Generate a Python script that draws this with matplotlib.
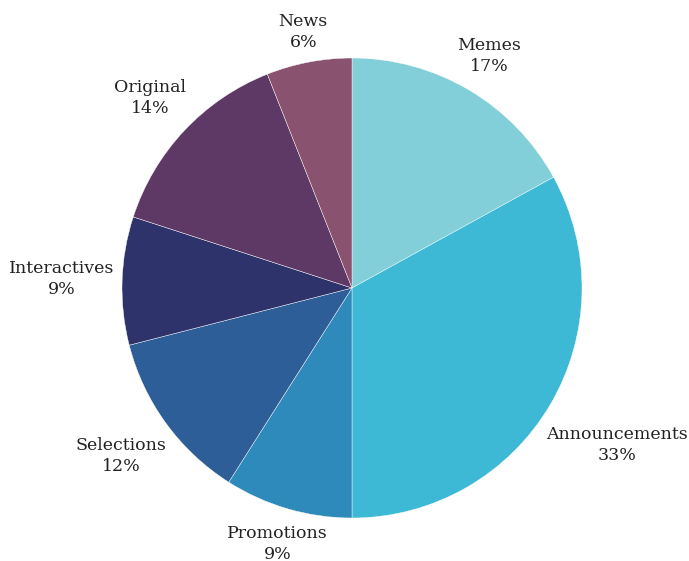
import numpy as np
import matplotlib
matplotlib.use('Agg')
import matplotlib.pyplot as plt

categories = ['Memes', 'Announcements', 'Promotions', 'Selections',
              'Interactives', 'Original', 'News']
shares = [17, 33, 9, 12, 9, 14, 6]
colors = ['#82cfd9', '#3db8d5', '#2d8aba', '#2e5e97',
          '#2f336c', '#5e3966', '#895370']


def main():
    fig = plt.figure(figsize=(6.89, 5.61), dpi=100)
    ax = fig.add_axes([0, 0, 1, 1])
    wedges, _ = ax.pie(shares, colors=colors, startangle=90, counterclock=False,
                       wedgeprops=dict(edgecolor='white', linewidth=0.3))
    # pie centre sits at (352, 288) px from top-left, radius 230 px
    ax.set_xlim(-352 / 230, 337 / 230)
    ax.set_ylim(-273 / 230, 288 / 230)
    ax.set_aspect('equal', adjustable='box')

    fig.canvas.draw()
    renderer = fig.canvas.get_renderer()
    ox = ax.transData.transform((0, 0))[0]
    rpx = ax.transData.transform((1, 0))[0] - ox
    gap = 8

    for w, name, pct in zip(wedges, categories, shares):
        ang = np.deg2rad((w.theta1 + w.theta2) / 2)
        t = ax.text(0, 0, '%s\n%d%%' % (name, pct), ha='center', va='center',
                    multialignment='center', fontsize=12.5, color='#222222',
                    family='DejaVu Serif', linespacing=1.3)
        bb = t.get_window_extent(renderer)
        hw, hh = bb.width / 2, bb.height / 2

        def near(r):
            cx, cy = r * np.cos(ang), r * np.sin(ang)
            nx = np.clip(0, cx - hw, cx + hw)
            ny = np.clip(0, cy - hh, cy + hh)
            return np.hypot(nx, ny)

        # push the label outwards until its box clears the pie
        lo, hi = 0.0, 3 * rpx
        for _ in range(60):
            mid = (lo + hi) / 2
            if near(mid) < rpx + gap:
                lo = mid
            else:
                hi = mid
        t.set_position((hi * np.cos(ang) / rpx, hi * np.sin(ang) / rpx))

    fig.savefig('out.png', dpi=100)


if __name__ == '__main__':
    main()
